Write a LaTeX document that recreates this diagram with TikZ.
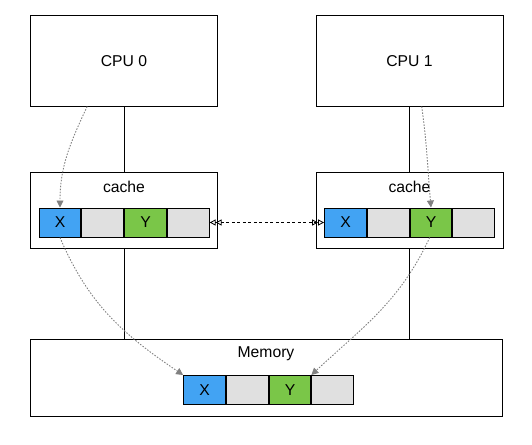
\documentclass[tikz,border=0pt]{standalone}
\usepackage{fontspec}
\setmainfont{Liberation Sans}
\usepackage{xcolor}
\usepackage{tikz}
\usetikzlibrary{positioning,arrows.meta}

\definecolor{lineblue}{RGB}{66,163,243}
\definecolor{linegreen}{RGB}{122,198,72}
\definecolor{lineempty}{RGB}{224,224,224}

\begin{document}
\begin{tikzpicture}[x=1pt,y=-1pt,
  every node/.style={font=\fontsize{15.7}{18}\selectfont},
  box/.style={draw,line width=1pt,minimum width=187pt,minimum height=90pt,inner sep=0pt},
  slot/.style={draw,line width=1pt,minimum width=41.75pt,minimum height=29pt,inner sep=0pt},
  flow/.style={draw=gray,dash pattern=on 1.5pt off 1.5pt,line width=0.9pt,-{Triangle[length=7pt,width=7pt]}},
  link/.style={line width=1pt}]
\useasboundingbox (0,0) rectangle (532,444);

% the two processors
\node[box] (cpu0) at (124,61) {CPU 0};
\node[box] (cpu1) at (409.5,61) {CPU 1};

% caches
\node[box,minimum height=76pt] (cache0) at (124,210) {};
\node[box,minimum height=76pt] (cache1) at (409.5,210) {};
\node (name0) at (124,187) {cache};
\node (name1) at (409.5,187) {cache};

\node[slot,fill=lineblue] (c0x) at (60,222.5) {X};
\node[slot,fill=lineempty,right=0pt of c0x] (c0a) {};
\node[slot,fill=linegreen,right=0pt of c0a] (c0y) {Y};
\node[slot,fill=lineempty,right=0pt of c0y] (c0b) {};

\node[slot,fill=lineblue] (c1x) at (345.5,222.5) {X};
\node[slot,fill=lineempty,right=0pt of c1x] (c1a) {};
\node[slot,fill=linegreen,right=0pt of c1a] (c1y) {Y};
\node[slot,fill=lineempty,right=0pt of c1y] (c1b) {};

% memory
\node[draw,line width=1pt,minimum width=472pt,minimum height=77pt] (mem) at (266,377.5) {};
\node (memname) at (266,354) {Memory};
\node[slot,fill=lineblue] (mx) at (204.5,390) {X};
\node[slot,fill=lineempty,right=0pt of mx] (ma) {};
\node[slot,fill=linegreen,right=0pt of ma] (my) {Y};
\node[slot,fill=lineempty,right=0pt of my] (mb) {};

% bus lines
\draw[link] (cpu0) -- (cache0);
\draw[link] (cpu1) -- (cache1);
\draw[link] (cache0) -- (cache0 |- mem.north);
\draw[link] (cache1) -- (cache1 |- mem.north);

% coherence
\draw[dash pattern=on 3pt off 2.5pt,line width=0.8pt,{Triangle[open,length=6pt,width=6pt]Triangle[open,length=6pt,width=6pt]}-{Triangle[open,length=6pt,width=6pt]Triangle[open,length=6pt,width=6pt]}] (c0b) -- (c1x);

% data flow
\draw[flow] (cpu0.-129) to[out=-115,in=90] (c0x.north);
\draw[flow] (cpu1.-75) to[out=-82,in=95] (c1y.north);
\draw[flow] (c0x.south) to[out=-67,in=146] (mx.north west);
\draw[flow] (c1y.-95) to[out=-115,in=43] (my.north east);
\end{tikzpicture}
\end{document}
